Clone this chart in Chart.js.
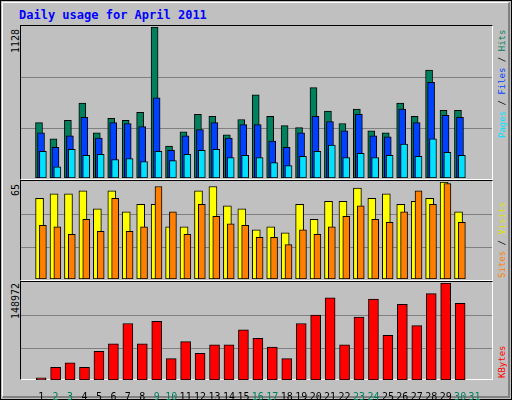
<!DOCTYPE html>
<html>
<head>
<meta charset="utf-8">
<script src="https://cdn.jsdelivr.net/npm/chart.js@4"></script>
<style>
  body { margin: 0; background: #fff; }
  #page { position: absolute; left: 0; top: 0; width: 510px; height: 398px; background: #c0c0c0;
    border: 1px solid #000; font-family: "DejaVu Sans Mono", monospace; }
  #inner { position: absolute; left: 1px; top: 1px; width: 505px; height: 393px;
    border-top: 1px solid #fff; border-left: 1px solid #fff; border-right: 2px solid #808080; border-bottom: 2px solid #808080; }
  .panel { position: absolute; border-top: 1px solid #000; border-left: 1px solid #000;
    border-right: 1px solid #fff; border-bottom: 1px solid #fff; }
  canvas { position: absolute; }
  .rot { position: absolute; transform-origin: 0 0; transform: rotate(-90deg); white-space: nowrap; line-height: 10px; }
</style>
</head>
<body>
<div id="page"><div id="inner"></div>
  <div style="position:absolute;left:18px;top:7px;color:#0000ff;font-weight:bold;font-size:12px;">Daily usage for April 2011</div>
  <div class="panel" style="left:19px;top:24px;width:471px;height:153px;"></div>
  <div class="panel" style="left:19px;top:179px;width:471px;height:99px;"></div>
  <div class="panel" style="left:19px;top:280px;width:471px;height:97px;"></div>
  <canvas id="c1" width="471" height="151" style="left:20px;top:26px;"></canvas>
  <canvas id="c2" width="471" height="97" style="left:20px;top:181px;"></canvas>
  <canvas id="c3" width="471" height="117" style="left:20px;top:282px;"></canvas>
  <div class="rot" style="left:10px;top:52px;font-size:10px;">1128</div>
  <div class="rot" style="left:10px;top:195px;font-size:10px;">65</div>
  <div class="rot" style="left:10px;top:318px;font-size:10px;">148972</div>
  <div class="rot" style="left:496px;top:137px;font-size:9px;"><span style="color:#00e0ff">Pages</span> / <span style="color:#0040ff">Files</span> / <span style="color:#00805c">Hits</span></div>
  <div class="rot" style="left:496px;top:277px;font-size:9px;"><span style="color:#ff8000">Sites</span> / <span style="color:#e0e000">Visits</span></div>
  <div class="rot" style="left:496px;top:377px;font-size:9px;"><span style="color:#ff0000">KBytes</span></div>
</div>
<script>
const days = Array.from({ length: 31 }, (_, i) => i + 1);
const weekend = [2, 3, 9, 10, 16, 17, 23, 24, 30, 31];

const hits = [414, 292, 430, 560, 338, 445, 430, 491, 1128, 238, 345, 476, 460, 322, 437, 622, 460, 391, 376, 675, 499, 407, 514, 353, 338, 560, 460, 806, 506, 506];
const files = [338, 230, 315, 453, 299, 414, 407, 384, 599, 207, 315, 361, 414, 299, 399, 399, 276, 230, 338, 460, 422, 353, 476, 315, 307, 514, 414, 714, 468, 453];
const pages = [200, 84, 215, 169, 176, 138, 146, 123, 200, 130, 176, 207, 215, 153, 169, 153, 115, 92, 161, 200, 246, 153, 184, 153, 169, 253, 161, 292, 192, 169];
const visits = [54, 57, 57, 59, 47, 59, 45, 50, 50, 35, 35, 59, 62, 49, 47, 33, 35, 31, 50, 40, 52, 52, 61, 54, 57, 50, 52, 54, 65, 45];
const sites = [36, 35, 30, 40, 32, 54, 32, 35, 62, 45, 30, 50, 42, 37, 36, 28, 28, 23, 33, 30, 35, 42, 49, 40, 38, 45, 59, 50, 64, 38];
const kbytes = [3274, 19645, 26194, 19645, 44200, 55660, 86766, 55660, 90040, 32742, 58936, 40928, 54024, 54024, 76944, 63847, 50750, 32742, 86766, 99864, 126057, 54024, 96590, 124420, 68758, 116234, 83492, 132606, 148972, 117871];

const maxHits = 1128, maxVisits = 65, maxKb = 148972;

// two grey lines at 1/3 and 2/3 of each panel
const thirds = {
  id: "thirds",
  beforeDatasetsDraw(chart) {
    const { ctx, chartArea: a, scales } = chart;
    const max = scales.y.max;
    ctx.save();
    ctx.strokeStyle = "#808080";
    ctx.lineWidth = 1;
    [1, 2].forEach((k) => {
      const y = Math.round(scales.y.getPixelForValue(max * k / 3)) + 0.5;
      ctx.beginPath(); ctx.moveTo(a.left, y); ctx.lineTo(a.right, y); ctx.stroke();
    });
    ctx.restore();
  }
};

function pts(values, shift) {
  return values.map((v, i) => ({ x: days[i] + shift, y: v }));
}

function bars(values, shift, color, width, order) {
  return {
    data: pts(values, shift), backgroundColor: color, borderColor: "#000", borderWidth: 1,
    borderSkipped: false, barThickness: width, grouped: false, order: order
  };
}

function panel(id, datasets, max, showX) {
  new Chart(document.getElementById(id), {
    type: "bar",
    data: { datasets: datasets },
    plugins: [thirds],
    options: {
      responsive: false, animation: false, devicePixelRatio: 1,
      layout: { padding: 0 },
      plugins: { legend: { display: false }, tooltip: { enabled: false } },
      scales: {
        x: {
          type: "linear", min: 0.13, max: 31.68, display: showX,
          grid: { display: false }, border: { display: false },
          afterBuildTicks: (s) => { s.ticks = days.map((d) => ({ value: d })); },
          afterFit: (s) => { if (showX) s.height = 20; },
          ticks: {
            autoSkip: false, maxRotation: 0, padding: 3,
            font: { family: "DejaVu Sans Mono", size: 10 },
            color: (c) => weekend.includes(c.tick.value) ? "#00805c" : "#000"
          }
        },
        y: { min: 0, max: max, display: false }
      }
    }
  });
}

panel("c1", [
  bars(hits, -0.15, "#00805c", 7, 3),
  bars(files, -0.01, "#0040ff", 7, 2),
  bars(pages, 0.12, "#00e0ff", 7, 1)
], maxHits, false);

panel("c2", [
  bars(visits, -0.11, "#ffff00", 8, 2),
  bars(sites, 0.12, "#ff8000", 7, 1)
], maxVisits, false);

panel("c3", [
  bars(kbytes, 0, "#ff0000", 10, 1)
], maxKb, true);
</script>
</body>
</html>
